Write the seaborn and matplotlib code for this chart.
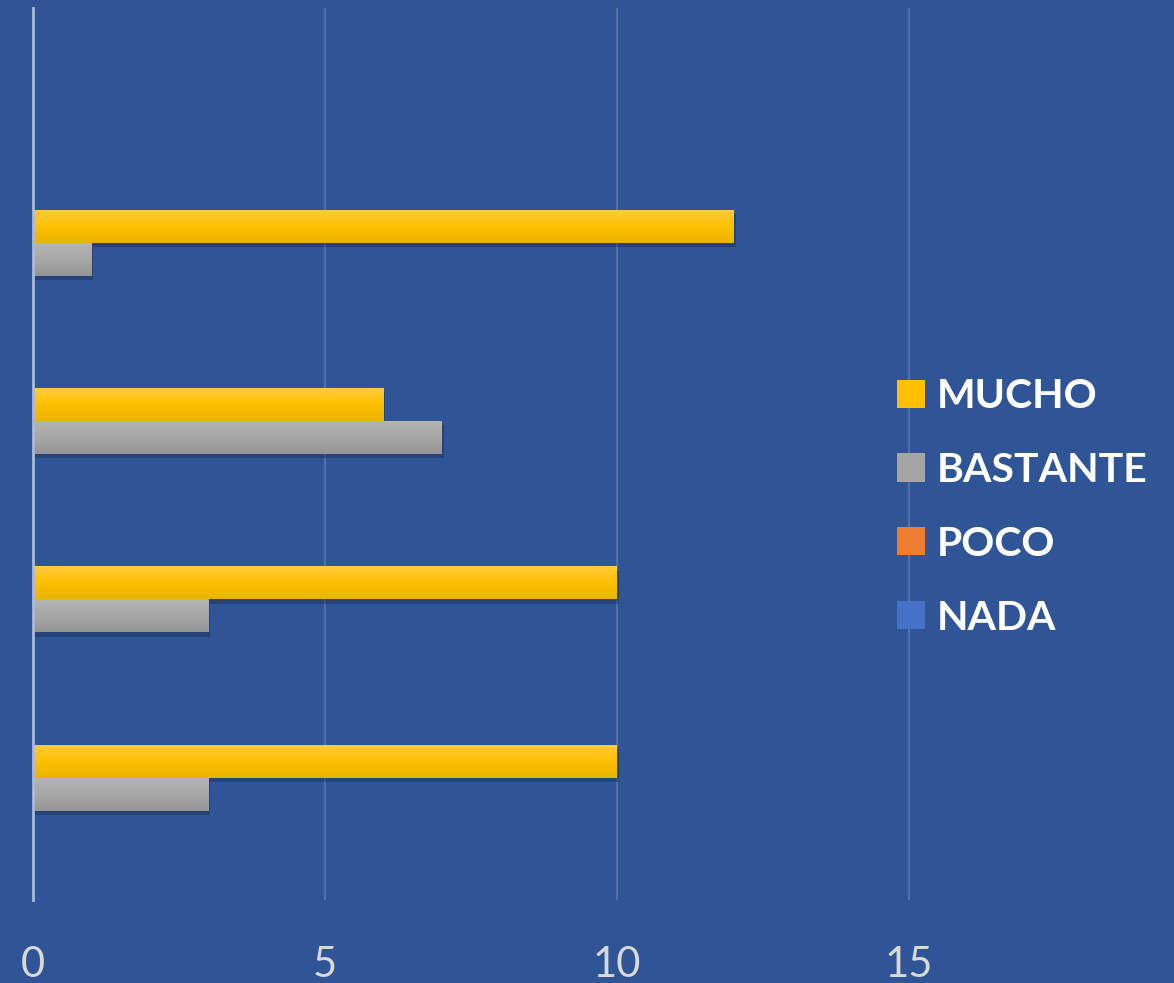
import matplotlib
matplotlib.use("Agg")
import numpy as np
import pandas as pd
import matplotlib.pyplot as plt
import seaborn as sns
from matplotlib import patheffects as pe
from matplotlib.colors import LinearSegmentedColormap

# --- datos ---
categorias = ["C5", "C4", "C3", "C2", "C1"]
niveles = ["MUCHO", "BASTANTE", "POCO", "NADA"]
mucho = [0, 12, 6, 10, 10]
bastante = [0, 1, 7, 3, 3]
poco = [0, 0, 0, 0, 0]
nada = [0, 0, 0, 0, 0]
ticks_x = [0, 5, 10, 15]

colores = {"MUCHO": "#FFC000", "BASTANTE": "#A5A5A5",
           "POCO": "#ED7D31", "NADA": "#4472C4"}
# degradados (arriba -> abajo) como en Office
degradados = {"MUCHO": ["#FFCB45", "#FFC000", "#E9B400"],
              "BASTANTE": ["#B5B5B5", "#A8A8A8", "#959595"]}
FONDO = "#2F5597"

sns.set_theme(style="dark")
plt.rcParams['font.family'] = ['Lato', 'DejaVu Sans']

df = pd.DataFrame({"categoria": categorias, "MUCHO": mucho, "BASTANTE": bastante,
                   "POCO": poco, "NADA": nada})
df = df.melt(id_vars="categoria", var_name="nivel", value_name="valor")

fig = plt.figure(figsize=(11.74, 9.83), dpi=100, facecolor=FONDO)
ax = fig.add_axes([33 / 1174, 83 / 983, 1168 / 1174, 892 / 983])
ax.set_facecolor(FONDO)

sns.barplot(data=df, y="categoria", x="valor", hue="nivel", hue_order=niveles,
            order=categorias, palette=colores, orient="h", width=0.74,
            saturation=1, edgecolor="none", linewidth=0, ax=ax)

ax.set_xlim(0, 20)
ax.set_ylim(4.5, -0.5)

# sombra y degradado en cada barra
grad = np.linspace(0, 1, 64).reshape(-1, 1)
for i, cont in enumerate(ax.containers):
    nivel = niveles[i]
    for barra in cont:
        barra.set_path_effects([pe.SimplePatchShadow(offset=(1.5, -3), shadow_rgbFace="#1a2d55", alpha=0.45),
                                pe.Normal()])
        if nivel in degradados and barra.get_width() > 0:
            cmap = LinearSegmentedColormap.from_list(nivel, degradados[nivel])
            x0, y0 = barra.get_x(), barra.get_y()
            im = ax.imshow(grad, cmap=cmap, aspect="auto", interpolation="bilinear",
                           extent=(x0, x0 + barra.get_width(), y0 + barra.get_height(), y0),
                           zorder=barra.get_zorder() + 0.1)
            im.set_clip_path(barra)

ax.set_xlim(0, 20)
ax.set_ylim(4.5, -0.5)
ax.set_xticks(ticks_x)
ax.set_xticklabels([str(t) for t in ticks_x])
ax.xaxis.grid(True, color="#5070AA", lw=1.5)
ax.yaxis.grid(False)
ax.set_axisbelow(True)
for lado in ["top", "right", "bottom"]:
    ax.spines[lado].set_visible(False)
ax.spines["left"].set_color("#A9BBDA")
ax.spines["left"].set_linewidth(2)
ax.tick_params(axis="x", length=0, pad=33, labelsize=30, labelcolor="#D9D9D9")
ax.tick_params(axis="y", left=False, labelleft=False)
ax.set_xlabel("")
ax.set_ylabel("")

handles, labels = ax.get_legend_handles_labels()
ax.get_legend().remove()
fig.legend(handles, labels, loc="upper left", bbox_to_anchor=(897 / 1174, 1 - 378 / 983),
           frameon=False, prop={"weight": "bold", "size": 29.5}, labelcolor="white",
           handlelength=0.68, handleheight=0.68, handletextpad=0.3, labelspacing=0.9,
           borderpad=0, borderaxespad=0)

plt.savefig("out.png", dpi=100, facecolor=FONDO)
